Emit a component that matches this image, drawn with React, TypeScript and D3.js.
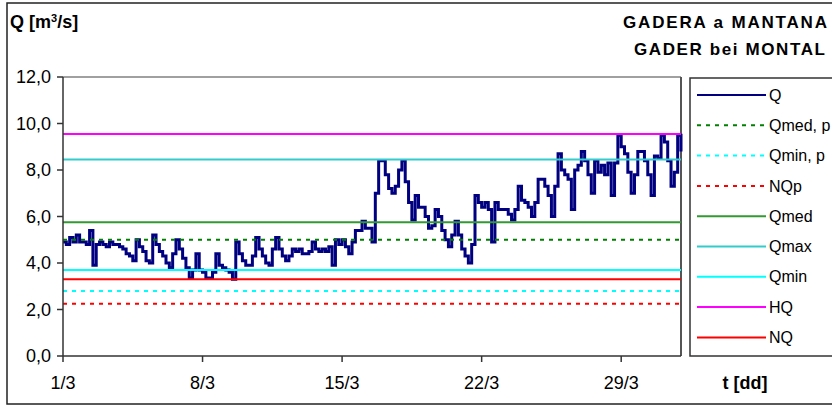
import React from 'react';
import * as d3 from 'd3';

// discharge Q, one reading every 4 hours from 1/3 00:00 (6 per day)
const qValues = [
  4.9, 4.8, 5.1, 4.9, 5.2, 4.9,
  4.9, 4.8, 5.4, 3.9, 4.8, 4.9,
  4.8, 4.7, 4.9, 4.8, 4.8, 4.7,
  4.6, 4.4, 4.3, 4.1, 5.0, 4.7,
  4.5, 4.1, 4.0, 5.2, 4.8, 4.5,
  4.3, 4.0, 3.8, 4.4, 5.0, 4.6,
  4.2, 3.8, 3.35, 3.7, 4.4, 3.7,
  3.6, 3.35, 3.35, 3.6, 4.4, 3.9,
  3.8, 3.7, 3.6, 3.3, 4.9, 4.4,
  4.1, 3.9, 3.9, 4.3, 5.1, 4.6,
  4.3, 4.0, 3.9, 4.6, 5.1, 4.6,
  4.3, 4.1, 4.3, 4.6, 4.5, 4.6,
  4.4, 4.4, 4.5, 4.9, 4.6, 4.5,
  4.6, 4.5, 4.7, 3.9, 5.0, 4.8,
  5.0, 4.7, 4.4, 4.9, 5.4, 5.4,
  5.8, 5.5, 5.5, 4.9, 7.0, 8.4,
  8.4, 7.8, 7.2, 7.0, 7.3, 8.0,
  8.4, 7.5, 6.6, 5.85, 6.9, 6.4,
  6.4, 6.0, 5.5, 5.6, 6.3, 6.0,
  5.4, 5.0, 4.7, 5.2, 5.8, 5.2,
  4.6, 4.3, 4.0, 4.8, 6.9, 6.6,
  6.4, 6.6, 6.3, 4.9, 6.6, 6.3,
  6.3, 6.3, 6.1, 5.85, 6.3, 7.3,
  6.7, 6.6, 6.4, 6.0, 6.6, 7.6,
  7.6, 7.3, 6.9, 6.0, 7.3, 8.7,
  8.0, 7.8, 7.6, 6.3, 8.0, 8.2,
  8.8, 8.4, 7.8, 7.0, 8.4, 7.9,
  8.2, 7.8, 8.3, 6.9, 8.3, 9.5,
  9.0, 8.7, 7.9, 7.0, 7.8, 8.8,
  8.8, 8.4, 7.8, 6.9, 8.6, 8.5,
  9.5, 9.2, 8.4, 7.3, 7.9, 9.5,
  8.8,
];

const refNames = ['Qmed, p', 'Qmin, p', 'NQp', 'Qmed', 'Qmax', 'Qmin', 'HQ', 'NQ'];
const refValues = [5.0, 2.8, 2.25, 5.75, 8.45, 3.7, 9.55, 3.3];

const yTicks = [0, 2, 4, 6, 8, 10, 12];
const xTickDays = [1, 8, 15, 22, 29];

const refStyles: Record<string, { color: string; dash?: string }> = {
  'Qmed, p': { color: '#008000', dash: '4,5' },
  'Qmin, p': { color: '#00ffff', dash: '4,5' },
  NQp: { color: '#ff0000', dash: '4,5' },
  Qmed: { color: '#339933' },
  Qmax: { color: '#33cccc' },
  Qmin: { color: '#00ffff' },
  HQ: { color: '#ff00ff' },
  NQ: { color: '#ff0000' },
};

const font = '"Liberation Sans", Arial, sans-serif';
const left = 63, right = 681, top = 77, bottom = 356;

export default function App() {
  const start = new Date(2023, 2, 1);
  const end = new Date(2023, 3, 1);
  const x = d3.scaleTime().domain([start, end]).range([left, right]);
  const y = d3.scaleLinear().domain([0, 12]).range([bottom, top]);

  const pts = qValues.map((v, i) => ({ t: d3.timeHour.offset(start, i * 4), v }));
  const line = d3.line<{ t: Date; v: number }>()
    .x(d => x(d.t))
    .y(d => y(d.v))
    .curve(d3.curveStepAfter);

  const fmt = (v: number) => d3.format('.1f')(v).replace('.', ',');
  const legendItems = ['Q', ...refNames];

  return (
    <svg width={832} height={408} style={{ position: 'absolute', left: 0, top: 0 }} fontFamily={font}>
      <rect x={0} y={0} width={832} height={408} fill="#fff" />
      <rect x={7} y={3} width={840} height={401} fill="none" stroke="#222" strokeWidth={1.5} />

      <text x={10} y={28} fontSize={18} fontWeight="bold">
        Q [m<tspan dy={-6} fontSize={11}>3</tspan><tspan dy={6}>/s]</tspan>
      </text>
      <text x={827} y={28} fontSize={17} fontWeight="bold" textAnchor="end"
        textLength={204} lengthAdjust="spacing">GADERA a MANTANA</text>
      <text x={825} y={55} fontSize={17} fontWeight="bold" textAnchor="end"
        textLength={191} lengthAdjust="spacing">GADER bei MONTAL</text>

      {/* plot area frame */}
      <line x1={left} x2={right} y1={top} y2={top} stroke="#808080" strokeWidth={1.5} />
      <line x1={right} x2={right} y1={top} y2={bottom} stroke="#555" strokeWidth={2} />

      <path d={line(pts) ?? ''} fill="none" stroke="#000080" strokeWidth={3} />

      {refNames.map((n, i) => (
        <line key={n} x1={left} x2={right} y1={y(refValues[i])} y2={y(refValues[i])}
          stroke={refStyles[n].color} strokeWidth={2} strokeDasharray={refStyles[n].dash} />
      ))}

      {/* axes */}
      <line x1={left} x2={left} y1={top} y2={bottom} stroke="#333" strokeWidth={1.5} />
      <line x1={left} x2={right} y1={bottom} y2={bottom} stroke="#333" strokeWidth={1.5} />
      {yTicks.map(t => (
        <g key={t}>
          <line x1={left - 6} x2={left} y1={y(t)} y2={y(t)} stroke="#333" strokeWidth={1.5} />
          <text x={51} y={y(t)} dy="0.35em" fontSize={18} textAnchor="end">{fmt(t)}</text>
        </g>
      ))}
      {xTickDays.map(d => {
        const xx = x(new Date(2023, 2, d));
        return (
          <g key={d}>
            <line x1={xx} x2={xx} y1={bottom} y2={bottom + 6} stroke="#333" strokeWidth={1.5} />
            <text x={xx} y={389} fontSize={18} textAnchor="middle">{d}/3</text>
          </g>
        );
      })}
      <text x={745} y={389} fontSize={18} fontWeight="bold" textAnchor="middle">t [dd]</text>

      {/* legend */}
      <rect x={690} y={78} width={160} height={278} fill="#fff" stroke="#333" strokeWidth={1.5} />
      {legendItems.map((n, i) => {
        const ly = 95 + i * 30.3;
        const st = n === 'Q' ? { color: '#000080', dash: undefined } : refStyles[n];
        return (
          <g key={n}>
            <line x1={697} x2={766} y1={ly} y2={ly} stroke={st.color} strokeWidth={2} strokeDasharray={st.dash} />
            <text x={769} y={ly} dy="0.35em" fontSize={16}>{n}</text>
          </g>
        );
      })}
    </svg>
  );
}
